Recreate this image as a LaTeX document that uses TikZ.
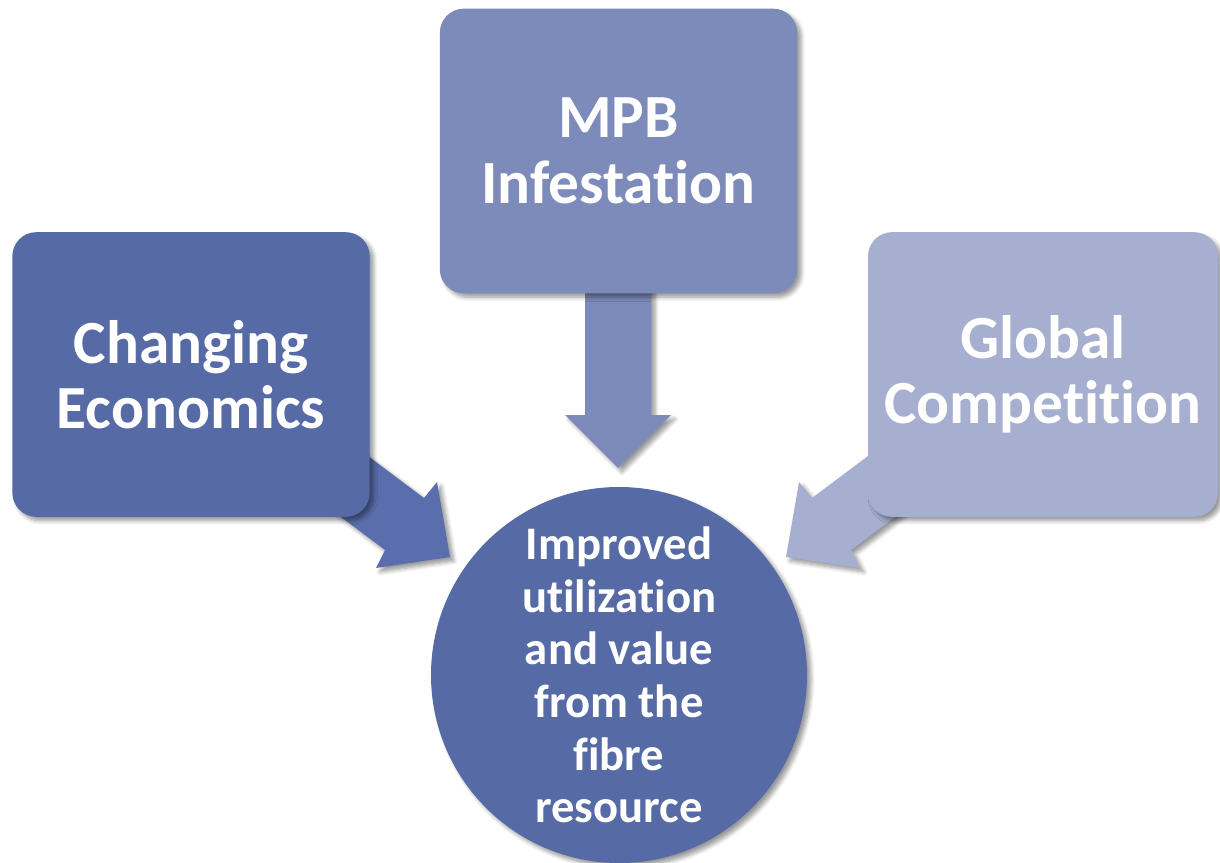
\documentclass[tikz,border=0pt]{standalone}
\usepackage{fontspec}
\setmainfont{Carlito}[Ligatures={NoCommon,NoRare,NoContextual}, RawFeature={-calt}]
\usetikzlibrary{shadows.blur}
\definecolor{cdark}{HTML}{566AA5}
\definecolor{carrowL}{HTML}{5A6EAD}
\definecolor{cmid}{HTML}{7D8BBA}
\definecolor{clight}{HTML}{A6AFD0}
\tikzset{
  shd/.style={blur shadow={shadow xshift=3pt, shadow yshift=-3pt, shadow blur steps=6, shadow opacity=40, shadow blur radius=3pt}},
  boxnode/.style={shd, rounded corners=18pt, minimum width=268pt, minimum height=213.5pt, inner sep=0pt, text=white, align=center, font=\fontsize{46}{49}\selectfont\bfseries},
  circnode/.style={shd, circle, fill=cdark, minimum size=282pt, inner sep=0pt, text=white, align=center, font=\fontsize{35}{39.5}\selectfont\bfseries},
  blockarrow/.style={shd, draw=none}
}
\begin{document}
\begin{tikzpicture}[x=0.75pt, y=-0.75pt]
\useasboundingbox (0,0) rectangle (1220,863);
% block arrows
\fill[blockarrow, fill=carrowL] (344,438) -- (424,498) -- (437,482) -- (450,557) -- (376,568) -- (385,550) -- (305,490) -- cycle;
\fill[blockarrow, fill=clight] (892,438) -- (812,498) -- (799,482) -- (786,557) -- (860,568) -- (851,550) -- (931,490) -- cycle;
\fill[blockarrow, fill=cmid] (585,250) -- (651,250) -- (651,415) -- (671,415) -- (618,468) -- (565,415) -- (585,415) -- cycle;
% boxes
\node[boxnode, fill=cdark] (econ) at (191,374.5) {Changing\\Economics};
\node[boxnode, fill=cmid] (mpb) at (618.5,151) {MPB\\Infestation};
\node[boxnode, fill=clight, minimum width=262.5pt] (glob) at (1043,374.5) {Global\\Competi\kern0pt tion};
\node[circnode] (goal) at (619,675) {Improved\\utilization\\and value\\from the\\fibre\\resource};
\end{tikzpicture}
\end{document}
